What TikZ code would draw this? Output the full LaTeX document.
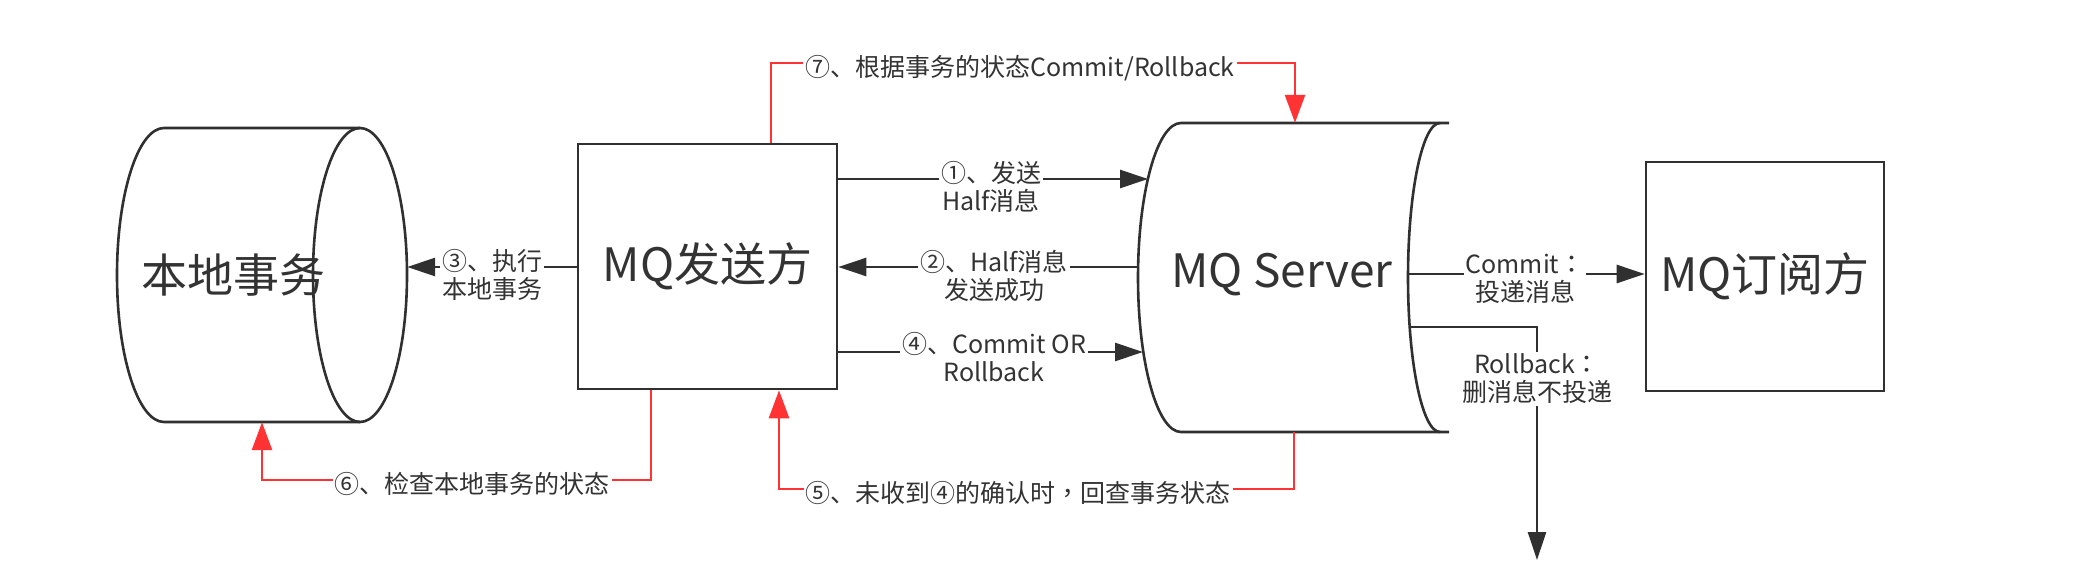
\documentclass[tikz,border=0pt]{standalone}
\usepackage{fontspec}
\setmainfont{Noto Sans CJK SC}
\newfontfamily\tcpunct{Noto Sans CJK TC}
\usetikzlibrary{arrows.meta}
\definecolor{ink}{HTML}{303030}
\definecolor{txt}{HTML}{333333}
\definecolor{redl}{HTML}{FF3333}
\tikzset{
 lw/.style={line width=2.6pt},
 box/.style={draw=ink, line width=2.6pt, inner sep=0pt},
 big/.style={font=\fontsize{46}{50}\selectfont, text=txt},
 lbl/.style={font=\fontsize{25}{28}\selectfont, text=txt, fill=white, align=center, inner sep=2pt},
 blk/.style={draw=ink, line width=2.6pt, -{Triangle[length=28pt,width=18pt]}},
 rdl/.style={draw=redl, line width=2.6pt, -{Triangle[length=28pt,width=20pt]}},
}
\begin{document}
\begin{tikzpicture}[x=1pt,y=-1pt]
\useasboundingbox[fill=white] (0,0) rectangle (2082,580);
% local transaction cylinder
\node[minimum width=290pt, minimum height=294pt, inner sep=0pt] (loc) at (262,275) {};
\node[big] (loct) at (233,275) {本地事务};
\draw[ink, lw] (360,128) -- (164,128) arc[start angle=270, end angle=90, x radius=47, y radius=147] -- (360,422);
\draw[ink, lw] (360,275) ellipse[x radius=47, y radius=147];
% sender
\node[box, big, minimum width=259pt, minimum height=245pt] (snd) at (707.5,266.5) {MQ发送方};
% server
\node[minimum width=311pt, minimum height=309pt, inner sep=0pt] (srv) at (1293.5,277.5) {};
\draw[ink, lw] (1449,123) -- (1181,123) arc[start angle=270, end angle=90, x radius=43, y radius=154.5] -- (1449,432);
\draw[ink, lw] (1440,123) arc[start angle=270, end angle=90, x radius=32, y radius=154.5];
\node[big] (srvt) at (1282,275) {MQ Server};
% subscriber
\node[box, big, minimum width=238pt, minimum height=229pt] (sub) at (1765,276.5) {MQ订阅方};
% points on the server outline
\coordinate (sA) at (1148,179);
\coordinate (sB) at (1138,267);
\coordinate (sC) at (1143,352);
\coordinate (sD) at (1408,274);
\coordinate (sE) at (1410,327);
\coordinate (rbEnd) at (1537,560);
% black connectors
\draw[blk] (snd.east |- sA) -- (sA);
\draw[blk] (sB) -- (snd.east |- sB);
\draw[blk] (snd.east |- sC) -- (sC);
\draw[blk] (snd.west |- 0,267) -- (loc.east |- 0,267);
\draw[blk] (sD) -- (sub.west |- sD);
\draw[blk] (sE) -| (rbEnd);
% red connectors
\draw[rdl] (snd.north -| 771,0) |- (1295,63) -- (srv.north -| 1295,0);
\draw[rdl] (snd.south -| 651,0) |- (262,480) -- (loc.south);
\draw[rdl] (srv.south -| 1294,0) |- (779,489) -- (snd.south -| 779,0);
% labels
\node[lbl] (l1) at (991,186.5) {①、发送\\Half消息};
\node[lbl] (l2) at (994,276) {②、Half消息\\发送成功};
\node[lbl] (l4) at (994,357.5) {④、Commit OR\\Rollback};
\node[lbl] (l3) at (492,275) {③、执行\\本地事务};
\node[lbl] (lc) at (1525,279) {Commit{\tcpunct ：}\\投递消息};
\node[lbl] (lr) at (1537,379) {Rollback{\tcpunct ：}\\删消息不投递};
\node[lbl] (l7) at (1020,68) {⑦、根据事务的状态Commit/Rollback};
\node[lbl] (l6) at (472,484) {⑥、检查本地事务的状态};
\node[lbl] (l5) at (1018,493) {⑤、未收到④的确认时{\tcpunct ，}回查事务状态};
\end{tikzpicture}
\end{document}
